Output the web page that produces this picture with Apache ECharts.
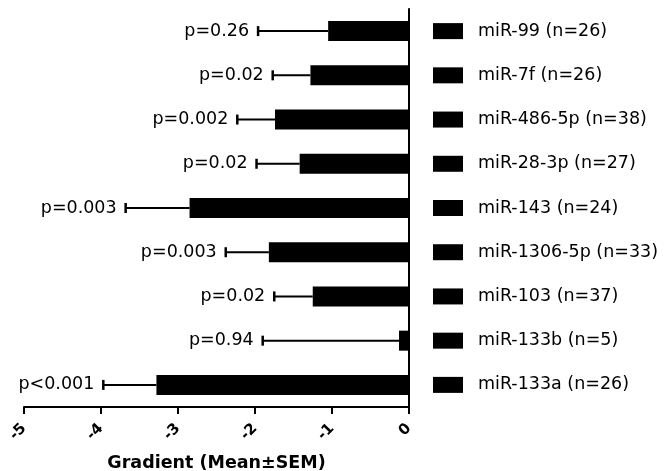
<!DOCTYPE html>
<html>
<head>
<meta charset="utf-8">
<script src="https://cdn.jsdelivr.net/npm/echarts@6/dist/echarts.min.js"></script>
<style>
  html, body { margin: 0; padding: 0; background: #fff; }
  #chart { width: 667px; height: 471px; }
</style>
</head>
<body>
<div id="chart"></div>
<script>
// miRNA gradients (mean ± SEM), listed top to bottom
const miRNAs = ['miR-99', 'miR-7f', 'miR-486-5p', 'miR-28-3p', 'miR-143',
                'miR-1306-5p', 'miR-103', 'miR-133b', 'miR-133a'];
const sampleSizes = [26, 26, 38, 27, 24, 33, 37, 5, 26];
const meanGradient = [-1.05, -1.28, -1.74, -1.42, -2.85, -1.82, -1.25, -0.13, -3.28];
const semGradient = [0.91, 0.49, 0.49, 0.56, 0.83, 0.56, 0.50, 1.77, 0.69];
const pLabels = ['p=0.26', 'p=0.02', 'p=0.002', 'p=0.02', 'p=0.003',
                 'p=0.003', 'p=0.02', 'p=0.94', 'p<0.001'];

const axisMin = -5;
const axisMax = 0;
const tickStep = 1;

const FONT = 'DejaVu Sans';

const rowLabels = miRNAs.map((m, i) => m + ' (n=' + sampleSizes[i] + ')');
const errorData = miRNAs.map((m, i) => [i, meanGradient[i], meanGradient[i] - semGradient[i], pLabels[i]]);

const chart = echarts.init(document.getElementById('chart'), null, { renderer: 'canvas' });

chart.setOption({
  backgroundColor: '#ffffff',
  animation: false,
  grid: { left: 24, right: 258, top: 9, bottom: 64, containLabel: false, outerBoundsMode: 'none' },
  xAxis: {
    type: 'value',
    min: axisMin,
    max: axisMax,
    interval: tickStep,
    splitLine: { show: false },
    axisLine: { show: true, onZero: false, lineStyle: { color: '#000', width: 2 } },
    axisTick: { show: true, length: 7, lineStyle: { color: '#000', width: 2 } },
    axisLabel: {
      rotate: 45,
      margin: 19,
      color: '#000',
      fontFamily: FONT,
      fontWeight: 'bold',
      fontSize: 15
    },
    name: 'Gradient (Mean\u00B1SEM)',
    nameLocation: 'middle',
    nameGap: 47,
    nameTextStyle: {
      color: '#000',
      fontFamily: FONT,
      fontWeight: 'bold',
      fontSize: 17.5
    }
  },
  yAxis: {
    type: 'category',
    position: 'right',
    inverse: true,
    data: rowLabels,
    axisLine: { show: true, onZero: false, lineStyle: { color: '#000', width: 2 } },
    axisTick: { show: false },
    splitLine: { show: false },
    axisLabel: {
      margin: 24,
      align: 'left',
      formatter: function (v) { return '{box|}{gap|}{txt|' + v + '}'; },
      rich: {
        box: { width: 30, height: 16, backgroundColor: '#000' },
        gap: { width: 15 },
        txt: { color: '#000', fontFamily: FONT, fontSize: 17.5 }
      }
    }
  },
  series: [
    {
      type: 'bar',
      data: meanGradient,
      barWidth: 20,
      itemStyle: { color: '#000' },
      z: 2
    },
    {
      type: 'custom',
      data: errorData,
      encode: { x: [1, 2], y: 0 },
      z: 3,
      renderItem: function (params, api) {
        const idx = api.value(0);
        const start = api.coord([api.value(1), idx]);
        const end = api.coord([api.value(2), idx]);
        const capHalf = 5;
        const label = errorData[params.dataIndex][3];
        return {
          type: 'group',
          children: [
            {
              type: 'line',
              shape: { x1: start[0], y1: start[1], x2: end[0], y2: end[1] },
              style: { stroke: '#000', lineWidth: 2 }
            },
            {
              type: 'line',
              shape: { x1: end[0], y1: end[1] - capHalf, x2: end[0], y2: end[1] + capHalf },
              style: { stroke: '#000', lineWidth: 2.5 }
            },
            {
              type: 'text',
              style: {
                text: label,
                x: end[0] - 9,
                y: end[1],
                align: 'right',
                verticalAlign: 'middle',
                fill: '#000',
                font: '17.5px "' + FONT + '"'
              }
            }
          ]
        };
      }
    }
  ]
});
</script>
</body>
</html>
